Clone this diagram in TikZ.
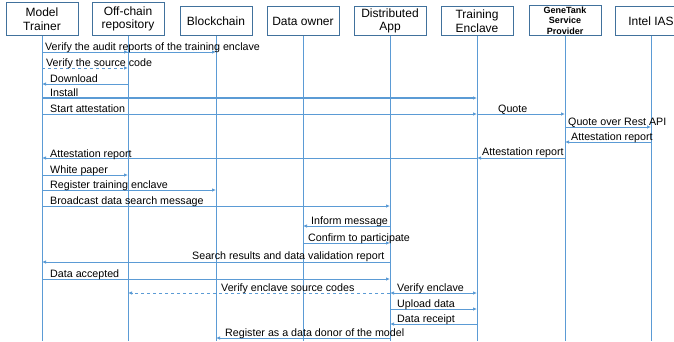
\documentclass[tikz,border=0pt]{standalone}
\usepackage{fontspec}
\setmainfont{Liberation Sans}
\usetikzlibrary{arrows.meta}
\usetikzlibrary{positioning}

\definecolor{lifeblue}{RGB}{91,155,213}
\definecolor{boxblue}{RGB}{65,113,156}

\tikzstyle{actor} = [draw=boxblue, line width=1pt, fill=white, rectangle,
    minimum width=72pt, minimum height=29pt, anchor=south, align=center,
    inner sep=1pt, font=\fontsize{12}{13.5}\selectfont]
\tikzstyle{life} = [draw=lifeblue, line width=0.8pt]
\tikzstyle{msg} = [draw=lifeblue, line width=0.8pt, -{Latex[length=4pt,width=3.5pt]}]
\tikzstyle{lbl} = [anchor=base west, inner sep=0pt, font=\fontsize{10.7}{12}\selectfont]

\begin{document}
\begin{tikzpicture}[x=1pt,y=-1pt]
\useasboundingbox (0,0) rectangle (674,341);
\def\bot{36}

% participants
\node[actor,minimum height=33pt] (mt) at (42,\bot) {Model\\Trainer};
\node[actor,minimum height=33pt] (oc) at (128,\bot) {Off-chain\\repository};
\node[actor] (bc) at (216,\bot) {Blockchain};
\node[actor] (dow) at (303,\bot) {Data owner};
\node[actor] (da) at (390,\bot) {Distributed\\App};
\node[actor] (te) at (477,\bot) {Training\\Enclave};
\node[actor,font=\bfseries\fontsize{9}{10.5}\selectfont] (gt) at (565,\bot) {GeneTank\\Service\\Provider};
\node[actor] (ias) at (651,\bot) {Intel IAS};

\foreach \n in {mt,oc,bc,dow,da,te,gt,ias}
    \draw[life] (\n.south) -- (\n |- 0,341);

% attestation of the enclave
\draw[msg] (mt |- 0,52) -- (oc |- 0,52);
\draw[msg] (mt |- 0,52) -- (bc |- 0,52);
\node[lbl] (l1) at (45,50) {Verify the audit reports of the training enclave};
\draw[msg,dashed] (mt |- 0,68) -- (oc |- 0,68);
\node[lbl] (l2) at (46,66) {Verify the source code};
\draw[msg] (oc |- 0,84) -- (mt |- 0,84);
\node[lbl] (l3) at (50,82) {Download};
\draw[msg,line width=1.2pt] (mt |- 0,98) -- (te |- 0,98);
\node[lbl] (l4) at (50,96) {Install};
\draw[msg] (mt |- 0,114) -- (te |- 0,114);
\node[lbl] (l5) at (50,112) {Start attestation};
\draw[msg] (te |- 0,114) -- (gt |- 0,114);
\node[lbl] (l6) at (498,112) {Quote};
\draw[msg] (gt |- 0,127) -- (ias |- 0,127);
\node[lbl] (l7) at (568,125) {Quote over Rest API};
\draw[msg] (ias |- 0,142) -- (gt |- 0,142);
\node[lbl] (l8) at (571,140) {Attestation report};
\draw[msg] (gt |- 0,158) -- (te |- 0,158);
\node[lbl] (l9) at (482,155) {Attestation report};
\draw[msg] (te |- 0,158) -- (mt |- 0,158);
\node[lbl] (l10) at (50,157) {Attestation report};

% registration and data search
\draw[msg] (mt |- 0,175) -- (oc |- 0,175);
\node[lbl] (l11) at (50,173) {White paper};
\draw[msg] (mt |- 0,190) -- (bc |- 0,190);
\node[lbl] (l12) at (50,188) {Register training enclave};
\draw[msg] (mt |- 0,206) -- (da |- 0,206);
\node[lbl] (l13) at (50,204) {Broadcast data search message};
\draw[msg] (da |- 0,226) -- (dow |- 0,226);
\node[lbl] (l14) at (311,224) {Inform message};
\draw[msg] (dow |- 0,243) -- (da |- 0,243);
\node[lbl] (l15) at (308,241) {Confirm to participate};
\draw[msg] (da |- 0,262) -- (mt |- 0,262);
\node[lbl] (l16) at (192,259) {Search results and data validation report};
\draw[msg] (mt |- 0,279) -- (da |- 0,279);
\node[lbl] (l17) at (50,277) {Data accepted};

% data upload
\draw[msg,dashed] (da |- 0,293) -- (oc |- 0,293);
\node[lbl] (l18) at (221,291) {Verify enclave source codes};
\draw[msg,{Latex[length=4pt,width=3.5pt]}-{Latex[length=4pt,width=3.5pt]}] (da |- 0,293) -- (te |- 0,293);
\node[lbl] (l19) at (397,291) {Verify enclave};
\draw[msg] (da |- 0,309) -- (te |- 0,309);
\node[lbl] (l20) at (397,307) {Upload data};
\draw[msg] (te |- 0,324) -- (da |- 0,324);
\node[lbl] (l21) at (397,322) {Data receipt};
\draw[msg] (da |- 0,338) -- (bc |- 0,338);
\node[lbl] (l22) at (225,336) {Register as a data donor of the model};

\end{tikzpicture}
\end{document}
